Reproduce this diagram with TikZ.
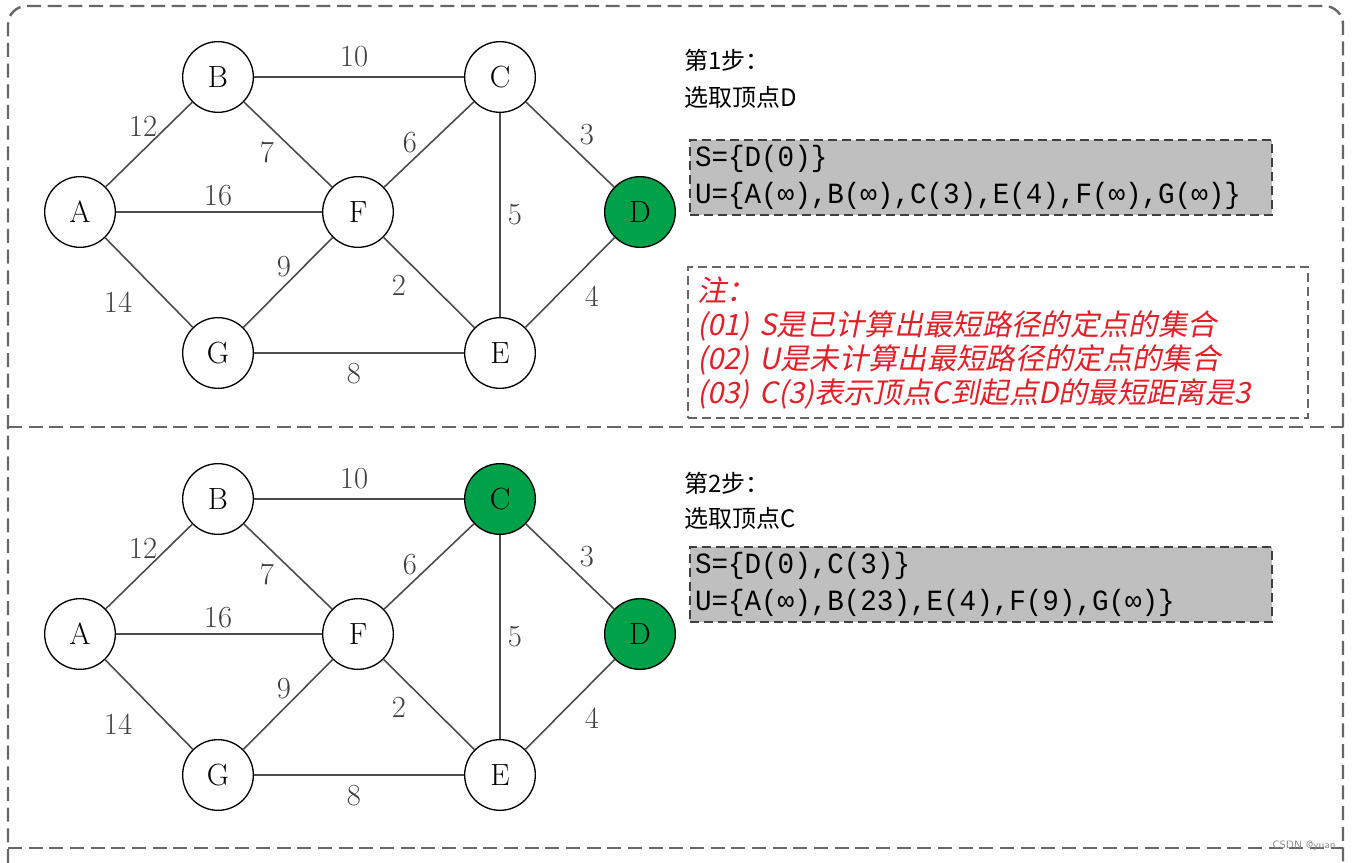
\documentclass[tikz,border=0pt]{standalone}
\usepackage{fontspec}
\newfontfamily\cjk{Noto Sans CJK SC}
\newfontfamily\cjkit{Noto Sans CJK SC}[FakeSlant=0.2]
\newfontfamily\monofnt{Liberation Mono}[FakeStretch=0.94]
\definecolor{vsel}{RGB}{0,161,72}
\definecolor{notered}{RGB}{230,30,40}
\begin{document}
\begin{tikzpicture}[x=0.75pt,y=-0.75pt,
                      vtx/.style={draw,circle,line width=1pt,minimum size=53pt,inner sep=0pt,font=\fontsize{23}{26}\selectfont},
                      edge/.style={draw=black!70,line width=1.2pt},
                      lbl/.style={text=black!75,inner sep=0pt,font=\fontsize{23}{26}\selectfont},
                      frame/.style={draw=black!60,line width=1.8pt,dash pattern=on 10.5pt off 5pt},
                      steptext/.style={anchor=west,inner sep=0pt,font=\cjk\fontsize{18}{22}\selectfont},
                      setbox/.style={fill=black!25,draw=black!75,line width=1.4pt,dash pattern=on 7pt off 3.5pt,
                        minimum width=436.5pt,minimum height=56.25pt,text width=429pt,inner xsep=3pt,align=left,
                        font=\monofnt\fontsize{22}{27.75}\selectfont},
                      notebox/.style={draw=black!60,line width=1.4pt,dash pattern=on 7pt off 3.5pt,
                        minimum width=465pt,minimum height=113.25pt,text width=451pt,inner xsep=7pt,align=left,
                        text=notered,font=\cjkit\fontsize{22}{25.5}\selectfont}
                    ]
                    \useasboundingbox (0,0) rectangle (1354,863);
                    \draw[frame,rounded corners=14pt] (8,863) -- (8,6) -- (1343,6) -- (1343,863);
                    \draw[frame] (8,427) -- (1343,427);
                    \draw[frame] (8,848) -- (1343,848);

                    \foreach \s/\off/\cfill in {1/0/white,2/422/vsel} {
                        \foreach \n/\px/\py/\f in {A/80/212/white,B/218/77/white,C/500/77/\cfill,D/640/212/vsel,E/500/353/white,F/358/212/white,G/218/353/white}
                          \node[vtx,fill=\f] (\n\s) at (\px,\py+\off) {\n};
                        \foreach \u/\v/\w/\lx/\ly in {A/B/12/-6/-18,B/C/10/-5/-20,B/F/7/-21/8,A/F/16/-1/-16,C/F/6/-19/-2,C/D/3/17/-10,
                                                      C/E/5/15/0,F/G/9/-4/-16,F/E/2/-30/3,D/E/4/22/14,A/G/14/-31/20,G/E/8/-5/21}
                          \draw[edge] (\u\s) -- node[lbl,shift={(\lx,\ly)}] {\w} (\v\s);
                      }

                    \node[steptext] (t1) at (684,60) {第1步：};
                    \node[steptext] (p1) at (684,97) {选取顶点D};
                    \node[setbox] (set1) at (981,177.5) {S=\{D(0)\}\\U=\{A(∞),B(∞),C(3),E(4),F(∞),G(∞)\}};
                    \node[notebox] (note1) at (998,342.5) {注：\\(01) S是已计算出最短路径的定点的集合\\(02) U是未计算出最短路径的定点的集合\\(03) C(3)表示顶点C到起点D的最短距离是3};

                    \node[steptext] (t2) at (684,483) {第2步：};
                    \node[steptext] (p2) at (684,518) {选取顶点C};
                    \node[setbox] (set2) at (981,584.5) {S=\{D(0),C(3)\}\\U=\{A(∞),B(23),E(4),F(9),G(∞)\}};

                    \node[anchor=east,inner sep=0pt,text=black!45,font=\sffamily\fontsize{8}{9}\selectfont] (mark) at (1336,846) {CSDN @yuan};
                  \end{tikzpicture}
\end{document}
